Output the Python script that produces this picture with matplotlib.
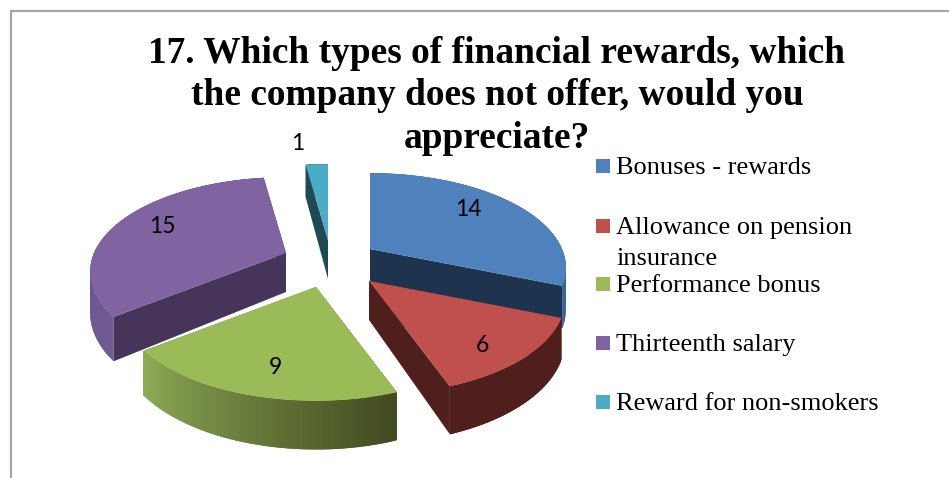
import numpy as np
import matplotlib
matplotlib.use('Agg')
import matplotlib.pyplot as plt
from matplotlib.colors import to_rgb
from matplotlib.patches import Polygon, Rectangle

TITLE_LINES = ["17. Which types of financial rewards, which", "the company does not offer, would you", "appreciate?"]
CATEGORIES = ["Bonuses - rewards", "Allowance on pension\ninsurance", "Performance bonus",
              "Thirteenth salary", "Reward for non-smokers"]
VALUES = [14, 6, 9, 15, 1]

COLORS = ['#4f81bd', '#c0504d', '#9bbb59', '#8064a2', '#4bacc6']
SIDE_COLORS = ['#1e334e', '#4f1f1e', '#4f5f2d', '#46345a', '#1f4a55']
RIM_START = ['#3d6592', '#4f1f1e', '#414a20', '#6f5a94', '#1f4a55']
RIM_END = ['#3d6592', '#4f1f1e', '#8fab56', '#5f4a7e', '#1f4a55']

# apex of each exploded slice, in pixels
APEX = [(370, 249), (369, 281), (316, 287), (286, 253), (328, 240)]
LABEL_POS = [(468, 209), (482, 345), (275, 367), (162, 226), (298, 144)]
TITLE_Y = [53, 95, 139]
DRAW_ORDER = [4, 3, 0, 1, 2]
LEGEND_Y = [166, 226, 284, 343, 402]

RX, RY, DEPTH, HEIGHT = 192, 91, 5.0, 39


def project(apex, theta, h=0.0):
    u, v = np.sin(theta), np.cos(theta)
    s = DEPTH / (DEPTH + v)
    return apex[0] + RX * u * s, apex[1] - RY * v * s + h * s


def draw_slice(ax, apex, t1, t2, color, side, rim_a, rim_b):
    angles = np.linspace(t1, t2, 60)
    for t in (t1, t2):
        rim = project(apex, t)
        rim_low = project(apex, t, HEIGHT)
        base = (apex[0], apex[1] + HEIGHT)
        ax.add_patch(Polygon([apex, rim, rim_low, base], fc=side, ec='none'))
    a, b = np.array(to_rgb(rim_a)), np.array(to_rgb(rim_b))
    # quads overlap the next one so no seams show
    for i in range(len(angles) - 1):
        c = a + (b - a) * i / (len(angles) - 2)
        j = min(i + 2, len(angles) - 1)
        quad = [project(apex, angles[i]), project(apex, angles[j]),
                project(apex, angles[j], HEIGHT), project(apex, angles[i], HEIGHT)]
        ax.add_patch(Polygon(quad, fc=c, ec='none'))
    xs, ys = project(apex, angles)
    ax.add_patch(Polygon([apex] + list(zip(xs, ys)), fc=color, ec='none'))


fig = plt.figure(figsize=(9.49, 4.78), dpi=100)
ax = fig.add_axes([0, 0, 1, 1])
ax.set_xlim(0, 949)
ax.set_ylim(478, 0)
ax.axis('off')

ax.plot([11, 11, 949], [478, 10.5, 10.5], color='#a6a6a6', lw=1.6, solid_joinstyle='miter')

edges = np.radians(np.cumsum([0] + VALUES) / sum(VALUES) * 360)
for i in DRAW_ORDER:
    draw_slice(ax, APEX[i], edges[i], edges[i + 1], COLORS[i], SIDE_COLORS[i], RIM_START[i], RIM_END[i])

for (x, y), val in zip(LABEL_POS, VALUES):
    ax.text(x, y, str(val), ha='center', va='center', fontsize=16.5, family='Lato', color='black')

for line, y in zip(TITLE_LINES, TITLE_Y):
    ax.text(497, y, line, ha='center', va='center', fontsize=26.9, fontweight='bold',
            family='Liberation Serif', color='black')

for name, color, y in zip(CATEGORIES, COLORS, LEGEND_Y):
    ax.add_patch(Rectangle((596, y - 7), 14, 14, fc=color, ec='none'))
    ax.text(616, y + 2, name.split('\n')[0], ha='left', va='center', fontsize=19,
            family='Liberation Serif', color='black')
    if '\n' in name:
        ax.text(616, y + 33, name.split('\n')[1], ha='left', va='center', fontsize=19,
                family='Liberation Serif', color='black')

fig.savefig('out.png', dpi=100)
